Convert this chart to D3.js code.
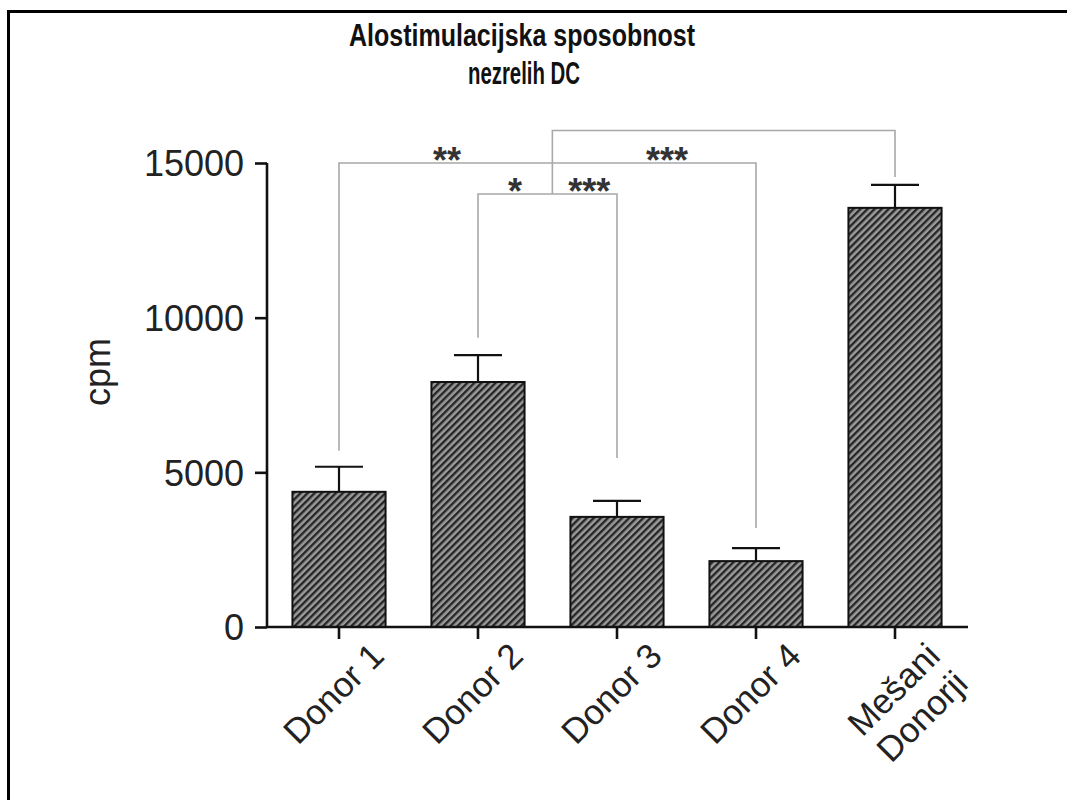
<!DOCTYPE html>
<html>
<head>
<meta charset="utf-8">
<script src="https://cdn.jsdelivr.net/npm/d3@7"></script>
<style>
  html, body { margin: 0; background: #fff; overflow: hidden; }
  svg { display: block; }
  text { font-family: "Liberation Sans", Arial, sans-serif; }
</style>
</head>
<body>
<div id="chart"></div>
<script>
// data
var categories = ["Donor 1", "Donor 2", "Donor 3", "Donor 4", "Mešani Donorji"];
var means = [4370, 7920, 3560, 2130, 13550];
var sems = [810, 870, 520, 420, 740];
var yTicks = [0, 5000, 10000, 15000];

// significance brackets: category index (can be in between), level and end of each leg in cpm
var bracketFrom = [0, 1, 1.535];
var bracketTo = [3, 2, 4];
var bracketLevel = [15000, 14000, 16050];
var bracketEndFrom = [5700, 9350, 14000];
var bracketEndTo = [3200, 5460, 14550];

var starText = ["**", "***", "*", "***"];
var starAt = [0.777, 2.36, 1.266, 1.80];
var starLevel = [15000, 15000, 14000, 14000];

var width = 1067, height = 800;

var svg = d3.select("#chart")
  .append("svg")
    .attr("width", width)
    .attr("height", height);

// frame (only top and left visible)
svg.append("path")
  .attr("d", "M8.5,800V11.5H1067")
  .attr("fill", "none")
  .attr("stroke", "#000")
  .attr("stroke-width", 3);

// hatch pattern for the bars
var pat = svg.append("defs").append("pattern")
  .attr("id", "hatch")
  .attr("patternUnits", "userSpaceOnUse")
  .attr("width", 5)
  .attr("height", 5)
  .attr("patternTransform", "rotate(45)");
pat.append("rect")
  .attr("width", 5).attr("height", 5)
  .attr("fill", "#9a9a9a");
pat.append("rect")
  .attr("width", 2.4).attr("height", 5)
  .attr("fill", "#262626");

// scales
var x = d3.scaleBand()
  .domain(categories)
  .range([269.5, 964.5])
  .paddingInner(0.33)
  .paddingOuter(0.165);

var y = d3.scaleLinear()
  .domain([0, 15000])
  .range([627, 163]);

var xc = function(c) { return x(c) + x.bandwidth() / 2; };
var pos = d3.scaleLinear()
  .domain([0, categories.length - 1])
  .range([xc(categories[0]), xc(categories[categories.length - 1])]);

// title
var title = svg.append("text")
  .attr("text-anchor", "middle")
  .style("font-weight", "bold")
  .style("font-size", "32px")
  .attr("fill", "#111");
title.append("tspan").attr("x", 522).attr("y", 46)
  .attr("textLength", 346).attr("lengthAdjust", "spacingAndGlyphs")
  .text("Alostimulacijska sposobnost");
title.append("tspan").attr("x", 524).attr("y", 84)
  .attr("textLength", 112).attr("lengthAdjust", "spacingAndGlyphs")
  .text("nezrelih DC");

// significance brackets
var brackets = d3.range(bracketFrom.length).map(function(i) {
  return { x1: pos(bracketFrom[i]), x2: pos(bracketTo[i]), lev: y(bracketLevel[i]),
           e1: y(bracketEndFrom[i]), e2: y(bracketEndTo[i]) };
});
svg.append("g")
  .selectAll("path")
  .data(brackets)
  .enter()
  .append("path")
    .attr("d", function(d) {
      return "M" + d.x1 + "," + d.e1 + "V" + d.lev + "H" + d.x2 + "V" + d.e2;
    })
    .attr("fill", "none")
    .attr("stroke", "#a8a8a8")
    .attr("stroke-width", 1.6);

svg.append("g")
  .selectAll("text")
  .data(d3.range(starText.length))
  .enter()
  .append("text")
    .attr("x", function(i) { return pos(starAt[i]); })
    .attr("y", function(i) { return y(starLevel[i]) + 10; })
    .attr("text-anchor", "middle")
    .style("font-size", "36px")
    .style("font-weight", "bold")
    .attr("fill", "#333")
    .text(function(i) { return starText[i]; });

// bars
svg.append("g")
  .selectAll("rect")
  .data(categories)
  .enter()
  .append("rect")
    .attr("x", function(d) { return x(d); })
    .attr("y", function(d, i) { return y(means[i]); })
    .attr("width", x.bandwidth())
    .attr("height", function(d, i) { return y(0) - y(means[i]); })
    .attr("fill", "url(#hatch)")
    .attr("stroke", "#111")
    .attr("stroke-width", 2);

// error bars (upper only)
var err = svg.append("g")
  .attr("stroke", "#111")
  .attr("stroke-width", 2.2);
err.selectAll("line.v")
  .data(categories)
  .enter()
  .append("line")
    .attr("class", "v")
    .attr("x1", xc).attr("x2", xc)
    .attr("y1", function(d, i) { return y(means[i]); })
    .attr("y2", function(d, i) { return y(means[i] + sems[i]); });
err.selectAll("line.c")
  .data(categories)
  .enter()
  .append("line")
    .attr("class", "c")
    .attr("x1", function(d) { return xc(d) - 24; })
    .attr("x2", function(d) { return xc(d) + 24; })
    .attr("y1", function(d, i) { return y(means[i] + sems[i]); })
    .attr("y2", function(d, i) { return y(means[i] + sems[i]); });

// Y axis
var yAxis = svg.append("g")
  .attr("transform", "translate(267,0)")
  .call(d3.axisLeft(y).tickValues(yTicks).tickSize(12).tickPadding(11).tickFormat(d3.format("d")));
yAxis.select(".domain").attr("d", "M0," + y(15000) + "V" + y(0)).attr("stroke-width", 2.6).attr("stroke", "#111");
yAxis.selectAll(".tick line").attr("stroke-width", 2.6).attr("stroke", "#111");
yAxis.selectAll(".tick text")
  .style("font-size", "36px")
  .attr("fill", "#222")
  .attr("dy", "0.36em");

// X axis
var xAxis = svg.append("g")
  .attr("transform", "translate(0," + y(0) + ")")
  .call(d3.axisBottom(x).tickSize(12).tickFormat(""));
xAxis.select(".domain").attr("d", "M267,0H968").attr("stroke-width", 2.6).attr("stroke", "#111");
xAxis.selectAll(".tick line").attr("stroke-width", 2.6).attr("stroke", "#111");

// rotated category labels
var xl = svg.append("g")
  .selectAll("text")
  .data(categories)
  .enter()
  .append("text")
    .attr("transform", function(d) { return "translate(" + (xc(d) + 47) + ",658) rotate(-45)"; })
    .attr("text-anchor", "end")
    .style("font-size", "35px")
    .attr("fill", "#222");
xl.each(function(d) {
  var words = d.split(" ");
  var t = d3.select(this);
  if (d.indexOf("Donor ") === 0) {
    t.text(d);
  } else {
    words.forEach(function(w, k) {
      t.append("tspan").attr("x", 0).attr("dy", k === 0 ? 0 : "1.12em").text(w);
    });
  }
});

// Y axis label
svg.append("text")
  .attr("transform", "translate(110,372) rotate(-90)")
  .attr("text-anchor", "middle")
  .style("font-size", "36px")
  .attr("fill", "#222")
  .text("cpm");
</script>
</body>
</html>
